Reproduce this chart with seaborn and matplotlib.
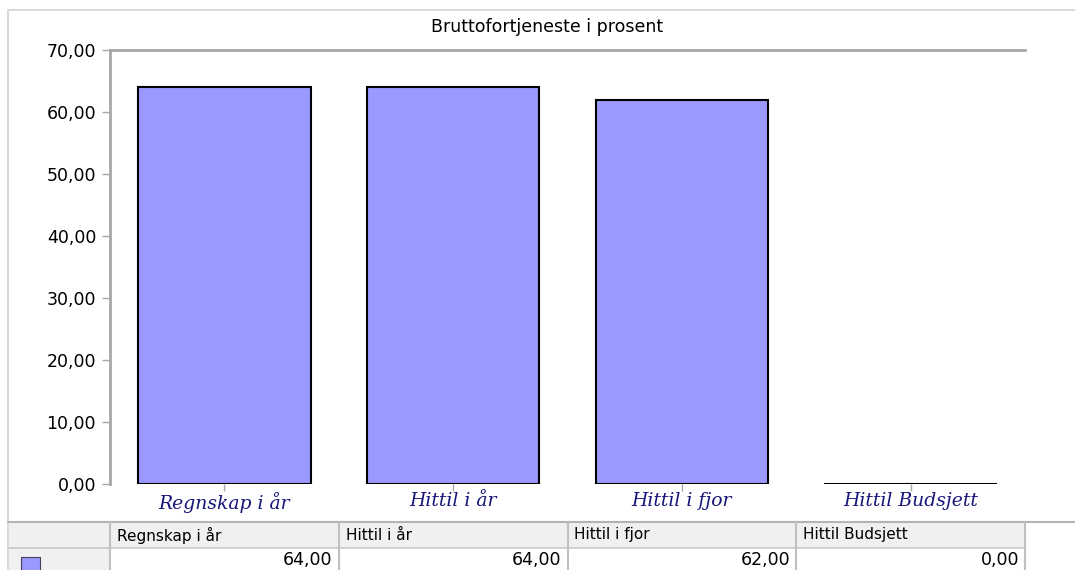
import matplotlib
matplotlib.use("Agg")
import matplotlib.pyplot as plt
import matplotlib.patches as mpatches
import seaborn as sns

categories = ["Regnskap i år", "Hittil i år", "Hittil i fjor", "Hittil Budsjett"]
values = [64.0, 64.0, 62.0, 0.0]
y_ticks = [0, 10, 20, 30, 40, 50, 60, 70]
title = "Bruttofortjeneste i prosent"

W, H = 1075, 570
bar_color = "#9999ff"
grey = "#a8a8a8"


def fmt(v):
    return f"{v:.2f}".replace(".", ",")


sns.set_style("white")
plt.rcParams["font.family"] = ["DejaVu Sans"]
plt.rcParams["text.color"] = "black"
plt.rcParams["ytick.labelcolor"] = "black"

fig = plt.figure(figsize=(W / 100, H / 100), dpi=100)

# background layer in pixel coordinates (frame + table)
bg = fig.add_axes([0, 0, 1, 1], zorder=0)
bg.set_xlim(0, W)
bg.set_ylim(H, 0)
bg.axis("off")

ax = fig.add_axes([110 / W, (H - 484) / H, 915 / W, 434 / H], zorder=1)
ax.patch.set_alpha(0)
sns.barplot(x=categories, y=values, color=bar_color, saturation=1,
            edgecolor="black", linewidth=1.5, width=0.755, ax=ax)
ax.set_xlim(-0.5, len(categories) - 0.5)
ax.set_ylim(0, 70)
ax.set_yticks(y_ticks)
ax.set_yticklabels([fmt(t) for t in y_ticks], fontsize=12.5, color="black")
ax.set_xlabel("")
ax.set_ylabel("")
for s in ["bottom", "right"]:
    ax.spines[s].set_visible(False)
for s in ["left", "top"]:
    ax.spines[s].set_color(grey)
    ax.spines[s].set_linewidth(2)
ax.tick_params(axis="y", length=6, width=1, color=grey, pad=4, left=True)
ax.tick_params(axis="x", length=5, width=1, color=grey, pad=1, bottom=True)
for lab in ax.get_xticklabels():
    lab.set_fontfamily(["DejaVu Serif"])
    lab.set_fontstyle("italic")
    lab.set_fontsize(13.5)
    lab.set_color("#16167a")

fig.text(547 / W, 1 - 27 / H, title, ha="center", va="center", fontsize=12.5)

# outer frame
bg.plot([8, 8], [10, H], color="#d9d9d9", lw=1.5)
bg.plot([8, W], [10, 10], color="#d9d9d9", lw=1.5)

# table below the chart, columns aligned with bar slots
fig.canvas.draw()
edges = [ax.transData.transform((i - 0.5, 0))[0] for i in range(len(categories) + 1)]
edges = [110] + edges[1:]
top, mid, bot = 522, 548, H
bg.add_patch(mpatches.Rectangle((8, top), edges[-1] - 8, mid - top, color="#f0f0f0", lw=0))
bg.add_patch(mpatches.Rectangle((8, mid), edges[0] - 8, bot - mid, color="#f0f0f0", lw=0))
bg.plot([8, W], [top, top], color="#b4b4b4", lw=1.5)
bg.plot([8, edges[-1]], [mid, mid], color="#c8c8c8", lw=1.2)
for x in edges:
    bg.plot([x, x], [top, bot], color="#c0c0c0", lw=1.5)
for i, (cat, v) in enumerate(zip(categories, values)):
    bg.text(edges[i] + 7, (top + mid) / 2, cat, ha="left", va="center", fontsize=11)
    bg.text(edges[i + 1] - 6, (mid + bot) / 2 + 1, fmt(v), ha="right", va="center", fontsize=12.5)
bg.add_patch(mpatches.Rectangle((21, 557), 19, 14, facecolor=bar_color,
                                edgecolor="#404060", lw=0.8))

fig.savefig("out.png", dpi=100)
